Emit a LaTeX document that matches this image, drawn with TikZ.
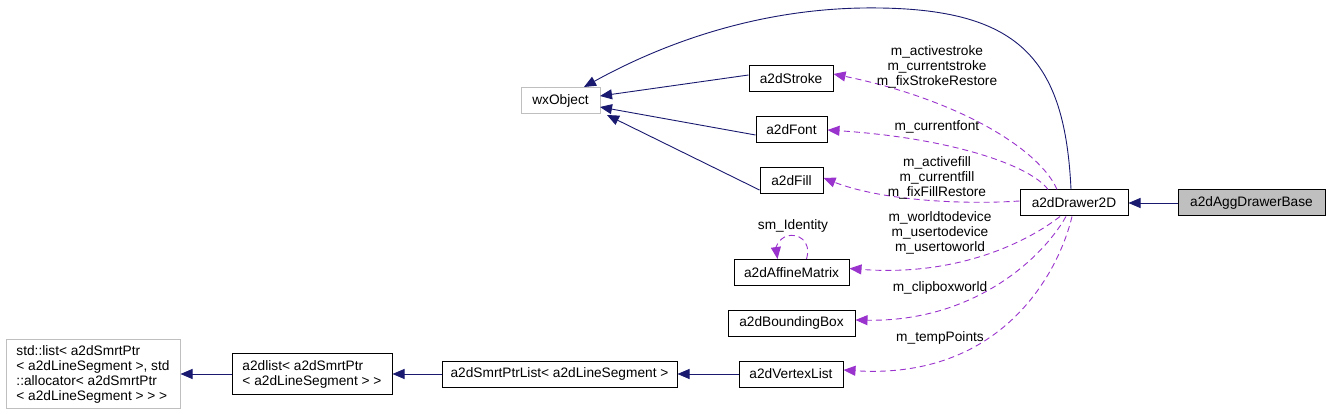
\documentclass[tikz,border=0pt]{standalone}
\usepackage{fontspec}
\setmainfont{Liberation Sans}
\usetikzlibrary{arrows.meta}
\definecolor{inh}{HTML}{191970}
\definecolor{use}{HTML}{9A32CD}
\definecolor{gb}{HTML}{BFBFBF}
\begin{document}
\begin{tikzpicture}[x=1pt,y=-1pt,
  every node/.style={font=\fontsize{13.7}{15}\selectfont, inner sep=0pt},
  cls/.style={draw=black, line width=1pt, minimum height=26pt, anchor=center},
  ext/.style={draw=gb, line width=1pt, minimum height=26pt, anchor=center},
  inhe/.style={draw=inh, line width=0.9pt, -{Triangle[length=12pt,width=10pt]}},
  usee/.style={draw=use, line width=0.9pt, dash pattern=on 6pt off 4pt, -{Triangle[length=12pt,width=10pt]}},
  lbl/.style={align=center, text=black}]
\useasboundingbox (0,0) rectangle (1331,414);
% nodes
\node[ext, minimum width=79pt] (wx) at (560.5,100.5) {wxObject};
\node[cls, minimum width=84pt] (stroke) at (791,79) {a2dStroke};
\node[cls, minimum width=71pt] (font) at (791.5,130) {a2dFont};
\node[cls, minimum width=63pt] (fill) at (791.5,181) {a2dFill};
\node[cls, minimum width=108pt] (drawer) at (1074,203) {a2dDrawer2D};
\node[cls, minimum width=147pt, fill=gb] (agg) at (1251.5,203) {a2dAggDrawerBase};
\node[cls, minimum width=115pt] (aff) at (791.5,272.5) {a2dAffineMatrix};
\node[cls, minimum width=127pt] (bbox) at (791.5,323) {a2dBoundingBox};
\node[cls, minimum width=104pt] (vl) at (791,374) {a2dVertexList};
\node[cls, minimum width=235pt] (spl) at (559.5,374) {a2dSmrtPtrList< a2dLineSegment >};
\node[cls, minimum width=160pt, minimum height=41pt, align=left] (a2l) at (312,374) {a2dlist< a2dSmrtPtr\\< a2dLineSegment > >};
\node[ext, minimum width=174pt, minimum height=69pt, align=left] (std) at (93,374) {std::list< a2dSmrtPtr\\< a2dLineSegment >, std\\::allocator< a2dSmrtPtr\\< a2dLineSegment > > >};
% inheritance
\draw[inhe] (agg.west) -- (drawer.east);
\draw[inhe] (vl.west) -- (spl.east);
\draw[inhe] (spl.west) -- (a2l.east);
\draw[inhe] (a2l.west) -- (std.east);
\draw[inhe] ([yshift=4pt]stroke.west) -- (600,96);
\draw[inhe] ([yshift=-5pt]font.west) -- (600,107);
\draw[inhe] ([yshift=-9pt]fill.west) -- (607,115);
\draw[inhe] ([xshift=-3pt]drawer.north) .. controls (1065,60) and (1020,10) .. (880,8)
   .. controls (760,6) and (660,45) .. (584,87);
% usage
\draw[usee] ([xshift=-17pt]drawer.north) .. controls (1040,150) and (960,100) .. ([yshift=5pt]stroke.east);
\draw[usee] ([xshift=-26pt]drawer.north) .. controls (1030,165) and (950,138) .. (font.east);
\draw[usee] ([yshift=2pt]drawer.west) .. controls (960,205) and (880,200) .. ([yshift=3pt]fill.east);
\draw[usee] ([xshift=-14pt]drawer.south) .. controls (1030,240) and (960,277) .. ([yshift=4pt]aff.east);
\draw[usee] ([xshift=-8pt]drawer.south) .. controls (1040,262) and (970,322) .. ([yshift=3pt]bbox.east);
\draw[usee] ([xshift=-2pt]drawer.south) .. controls (1058,275) and (1000,380) .. ([yshift=4pt]vl.east);
\draw[usee] ([xshift=15pt]aff.north) .. controls (812,240) and (797,233) .. (787,236) .. controls (778,239) and (776,248) .. ([xshift=-14pt]aff.north);
% labels
\node[lbl] at (937,67) {m\_activestroke\\m\_currentstroke\\m\_fixStrokeRestore};
\node[lbl] at (937,127) {m\_currentfont};
\node[lbl] at (937,178) {m\_activefill\\m\_currentfill\\m\_fixFillRestore};
\node[lbl] at (793,226) {sm\_Identity};
\node[lbl] at (940,233) {m\_worldtodevice\\m\_usertodevice\\m\_usertoworld};
\node[lbl] at (940,288) {m\_clipboxworld};
\node[lbl] at (940,338) {m\_tempPoints};
\end{tikzpicture}
\end{document}
